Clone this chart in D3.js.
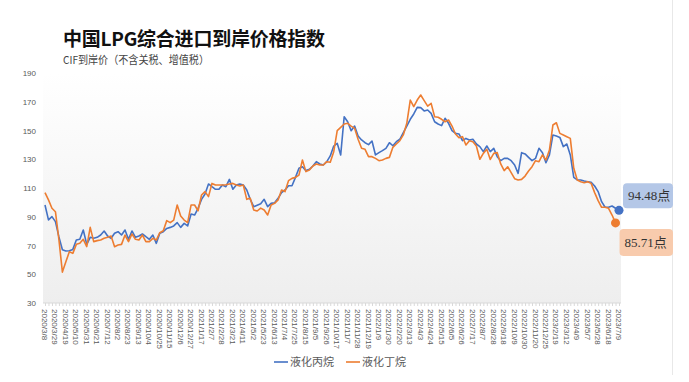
<!DOCTYPE html>
<html>
<head>
<meta charset="utf-8">
<script src="https://cdn.jsdelivr.net/npm/d3@7/dist/d3.min.js"></script>
<style>
  html, body { margin: 0; padding: 0; background: #fff; }
  svg { display: block; }
</style>
</head>
<body>
<div id="chart"></div>
<script>
(function (d3) {
    'use strict';

    // x tick labels, one label every 3 weekly points
    var tickLabels = [
        '2020/3/8', '2020/3/29', '2020/4/19', '2020/5/10', '2020/5/31', '2020/6/21', '2020/7/12',
        '2020/8/2', '2020/8/23', '2020/9/13', '2020/10/4', '2020/10/25', '2020/11/15', '2020/12/6',
        '2020/12/27', '2021/1/17', '2021/2/7', '2021/2/28', '2021/3/21', '2021/4/11', '2021/5/2',
        '2021/5/23', '2021/6/13', '2021/7/4', '2021/7/25', '2021/8/15', '2021/9/5', '2021/9/26',
        '2021/10/17', '2021/11/7', '2021/11/28', '2021/12/19', '2022/1/9', '2022/1/30', '2022/2/20',
        '2022/3/13', '2022/4/3', '2022/4/24', '2022/5/15', '2022/6/5', '2022/6/26', '2022/7/17',
        '2022/8/7', '2022/8/28', '2022/9/18', '2022/10/9', '2022/10/30', '2022/11/20', '2022/12/25',
        '2023/2/19', '2023/3/12', '2023/4/9', '2023/5/7', '2023/5/28', '2023/6/18', '2023/7/9'
    ];

    var yTicks = [30, 50, 70, 90, 110, 130, 150, 170, 190];

    var seriesNames = ['液化丙烷', '液化丁烷'];

    // 液化丙烷
    var propane = [
        98.2, 87.8, 90.1, 86.6, 76, 67, 66.2, 66.4, 67.3, 73.8,
        74.3, 80.8, 70.8, 75.7, 75, 75.7, 77.3, 80.1, 76.6, 75,
        78.5, 79.6, 77.3, 80.8, 74.3, 80.1, 75.7, 76.6, 78, 76.1,
        74.3, 77.3, 71.5, 78.5, 79.6, 81.9, 82.6, 83.6, 85.9, 82.6,
        85.4, 83.6, 91.9, 91.2, 95.9, 102.1, 105.8, 112.8, 110.9, 109.1,
        109.1, 112.1, 110.9, 116, 109.1, 112.1, 112.8, 112.1, 108.6, 102.1,
        97, 98, 99, 102.1, 97, 99.3, 99.8, 102.8, 106.8, 108.6,
        111.6, 111.6, 117.4, 123.7, 124.8, 122.1, 123, 125.3, 128.3, 126.7,
        126, 128.3, 132.3, 139.2, 141.1, 133, 159.6, 156.1, 149.9, 153.1,
        146.2, 143.4, 141.5, 140.2, 142.7, 133, 134.6, 136, 137.6, 141.5,
        139.4, 142.2, 143.9, 148.5, 153.1, 157.8, 161.5, 166.1, 165.9, 163.6,
        164.3, 161.9, 156.1, 154.5, 153.4, 158.5, 155, 149.9, 148, 147.6,
        142.9, 144.5, 143.4, 143.9, 140.6, 138.8, 135.3, 139.2, 135.3, 137.6,
        131.8, 129, 130.6, 130.6, 129, 126, 120.2, 134.6, 133.7, 131.3,
        129, 130.6, 137.6, 134.6, 127.6, 133, 146.9, 146.2, 145.2, 138.8,
        140.6, 133, 117.4, 115.6, 115.6, 114.9, 114.4, 113.9, 111.4, 107.5,
        100.5, 96.6, 96.6, 97.5, 95.9, 94.48
    ];

    // 液化丁烷 (no value yet for the last week)
    var butane = [
        106.8, 101.7, 95.9, 93.5, 74, 51.5, 58.7, 65.7, 64.5, 70.8,
        71.5, 74.3, 69.2, 82.6, 72.7, 73.4, 73.8, 75, 75.7, 76.6,
        69.2, 70.3, 70.8, 77.3, 72.7, 78, 74.3, 73.8, 77.3, 72.7,
        72.7, 75, 73.8, 78.9, 80.3, 87.3, 85.9, 87.7, 98.2, 90.5,
        87.7, 85.9, 98.2, 98.2, 94.2, 105.1, 107.5, 104, 113.2, 112.1,
        112.1, 112.1, 112.3, 112.8, 113.2, 112.1, 111.4, 112.1, 102.1, 102.8,
        94.7, 94, 96, 94.7, 91.2, 98.2, 99.3, 101.7, 108.6, 107.5,
        115.1, 116.7, 117.4, 119, 129.5, 121.4, 122.5, 125.3, 126.7, 126,
        126, 128.3, 127.9, 135.3, 149.9, 152.2, 154.5, 155, 153.1, 151.5,
        143.9, 137.6, 136.9, 131.8, 131.8, 130.6, 129, 129.5, 130.6, 131.3,
        138.3, 140.6, 142.9, 146.9, 155, 171.2, 166.6, 171.2, 174.7, 170.8,
        167, 168.9, 159.6, 159.2, 157.8, 156.1, 157.3, 153.1, 147.6, 145,
        145.7, 139.9, 142.9, 142.2, 139.2, 130, 134.1, 136.9, 129.9, 134.1,
        134.6, 126.7, 122.1, 124.8, 120.7, 116.5, 115.6, 116, 118.3, 121.8,
        124.8, 129, 128.3, 133, 129.5, 136.4, 153.8, 155.4, 148, 146.9,
        145.7, 144.5, 123.7, 115.6, 114.4, 113.7, 114.4, 113.2, 106.8, 101.2,
        96.6, 96.6, 95.9, 91.2, 85.71, null
    ];

    var W = 689, H = 382,
        plot = { left: 43, right: 621, top: 73, bottom: 303 },
        colors = ['#4472C4', '#ED7D31'],
        boxFills = ['#B4C7E7', '#F8CBAD'];

    var svg = d3.select('#chart').append('svg')
        .attr('width', W)
        .attr('height', H);

    var x = d3.scalePoint()
        .domain(d3.range(propane.length))
        .range([45, 619]);

    var y = d3.scaleLinear()
        .domain([30, 190])
        .range([plot.bottom, plot.top]);

    // plot background gradient
    var grad = svg.append('defs').append('linearGradient')
        .attr('id', 'bg')
        .attr('x1', 0).attr('y1', 0).attr('x2', 0).attr('y2', 1);
    grad.append('stop').attr('offset', '0%').attr('stop-color', '#ffffff');
    grad.append('stop').attr('offset', '100%').attr('stop-color', '#eeeeee');

    svg.append('rect')
        .attr('x', plot.left)
        .attr('y', plot.top)
        .attr('width', plot.right - plot.left)
        .attr('height', plot.bottom - plot.top)
        .attr('fill', 'url(#bg)');

    // right border of chart area
    svg.append('line')
        .attr('x1', 672.5).attr('x2', 672.5)
        .attr('y1', 0).attr('y2', 375)
        .attr('stroke', '#e8e8e8');

    // title
    svg.append('text')
        .attr('x', 63).attr('y', 46)
        .attr('font-family', '"Noto Sans CJK SC", sans-serif')
        .attr('font-size', 19)
        .attr('font-weight', 700)
        .attr('fill', '#111')
        .attr('textLength', 262)
        .text('中国LPG综合进口到岸价格指数');

    svg.append('text')
        .attr('x', 63).attr('y', 64)
        .attr('font-family', '"Noto Sans CJK SC", sans-serif')
        .attr('font-size', 11)
        .attr('fill', '#444')
        .attr('textLength', 146)
        .attr('lengthAdjust', 'spacingAndGlyphs')
        .text('CIF到岸价（不含关税、增值税）');

    // y axis
    var yAxis = svg.append('g')
        .attr('transform', 'translate(36,0)')
        .call(d3.axisLeft(y).tickValues(yTicks).tickSize(0).tickPadding(0));
    yAxis.select('.domain').remove();
    yAxis.selectAll('text')
        .attr('font-family', '"Liberation Sans", Arial, sans-serif')
        .attr('font-size', 8)
        .attr('fill', '#595959');

    // x axis: line, small ticks for every week, labels every third week
    var xAxis = svg.append('g')
        .attr('transform', 'translate(0,' + plot.bottom + ')');
    xAxis.append('line')
        .attr('x1', plot.left).attr('x2', plot.right)
        .attr('stroke', '#d9d9d9');
    xAxis.selectAll('line.tick')
        .data(d3.range(propane.length))
        .enter().append('line')
        .attr('class', 'tick')
        .attr('x1', function (d) { return x(d) + 0.5; })
        .attr('x2', function (d) { return x(d) + 0.5; })
        .attr('y1', 0).attr('y2', 3)
        .attr('stroke', '#d9d9d9');
    xAxis.selectAll('text')
        .data(tickLabels)
        .enter().append('text')
        .attr('transform', function (d, i) {
            return 'translate(' + (x(i * 3) - 3) + ',6) rotate(90)';
        })
        .attr('font-family', '"Liberation Sans", Arial, sans-serif')
        .attr('font-size', 8)
        .attr('fill', '#595959')
        .text(function (d) { return d; });

    // lines
    var line = d3.line()
        .defined(function (d) { return d != null; })
        .x(function (d, i) { return x(i); })
        .y(function (d) { return y(d); });

    [propane, butane].forEach(function (s, k) {
        svg.append('path')
            .datum(s)
            .attr('d', line)
            .attr('fill', 'none')
            .attr('stroke', colors[k])
            .attr('stroke-width', 1.6)
            .attr('stroke-linejoin', 'round');
    });

    // last point markers and value boxes
    [propane, butane].forEach(function (s, k) {
        var idx = s.length - 1;
        while (s[idx] == null) idx--;
        var cx = x(idx), cy = y(s[idx]);

        svg.append('circle')
            .attr('cx', cx).attr('cy', cy).attr('r', 4.5)
            .attr('fill', colors[k]);

        var bx = cx + 4,
            by = k === 0 ? cy - 27 : cy + 6,
            bh = k === 0 ? 25 : 27;
        svg.append('rect')
            .attr('x', bx).attr('y', by)
            .attr('width', 673 - bx).attr('height', bh)
            .attr('rx', 4)
            .attr('fill', boxFills[k]);
        svg.append('text')
            .attr('x', bx + 5).attr('y', by + bh / 2 + 4.5)
            .attr('font-family', '"Liberation Serif", "Noto Sans CJK SC", serif')
            .attr('font-size', 13)
            .attr('fill', '#333')
            .text(s[idx] + '点');
    });

    // legend
    var legend = svg.append('g').attr('transform', 'translate(0,362)');
    var legendX = [274, 346];
    seriesNames.forEach(function (name, k) {
        legend.append('line')
            .attr('x1', legendX[k]).attr('x2', legendX[k] + 14)
            .attr('stroke', colors[k])
            .attr('stroke-width', 1.6);
        legend.append('text')
            .attr('x', legendX[k] + 16).attr('y', 4)
            .attr('font-family', '"Noto Sans CJK SC", sans-serif')
            .attr('font-size', 11)
            .attr('fill', '#595959')
            .text(name);
    });

})(d3);
</script>
</body>
</html>
